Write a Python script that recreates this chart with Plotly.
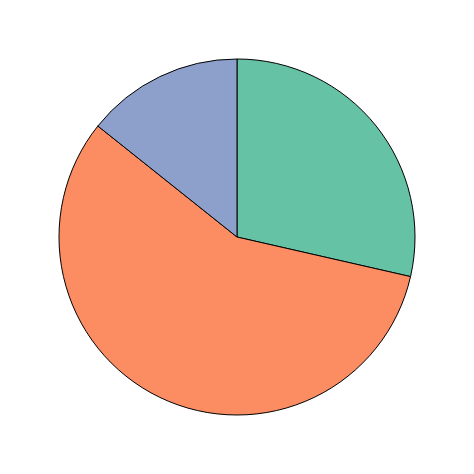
import plotly.graph_objects as go

labels = ["A", "B", "C"]
values = [2, 4, 1]
colors = ["#66c2a5", "#fc8d62", "#8da0cb"]

fig = go.Figure(go.Pie(
    labels=labels, values=values, sort=False, direction="clockwise", rotation=0,
    marker=dict(colors=colors, line=dict(color="black", width=1)),
    textinfo="none", hoverinfo="label+value", showlegend=False,
))
fig.update_layout(width=474, height=474, margin=dict(l=51, r=67, t=51, b=67),
                  paper_bgcolor="white", plot_bgcolor="white")
fig.write_html("out.html")
